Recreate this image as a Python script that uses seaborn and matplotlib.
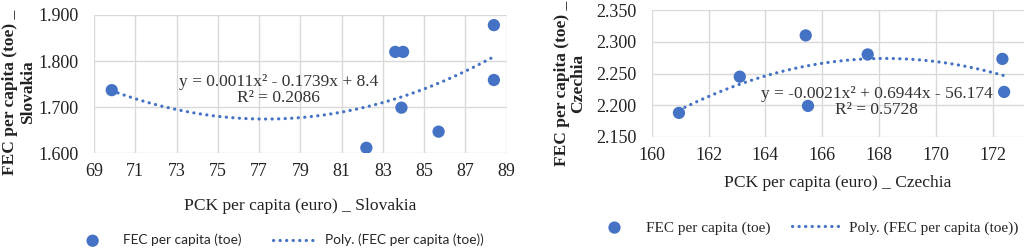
import numpy as np
import pandas as pd
import matplotlib
matplotlib.use('Agg')
import matplotlib.pyplot as plt
import seaborn as sns

# Slovakia
sk_pck = [69.86, 83.6, 83.98, 83.9, 82.2, 85.7, 88.38, 88.38]
sk_fec = [1.737, 1.820, 1.820, 1.699, 1.612, 1.647, 1.878, 1.759]
sk_eq = 'y = 0.0011x² - 0.1739x + 8.4\nR² = 0.2086'

# Czechia
cz_pck = [160.96, 163.1, 165.42, 165.5, 167.6, 172.34, 172.4]
cz_fec = [2.188, 2.245, 2.310, 2.199, 2.280, 2.273, 2.221]
cz_eq = 'y = -0.0021x² + 0.6944x - 56.174\nR² = 0.5728'

sk = pd.DataFrame({'pck': sk_pck, 'fec': sk_fec})
cz = pd.DataFrame({'pck': cz_pck, 'fec': cz_fec})

sns.set_style('white')
plt.rcParams['font.family'] = ['Liberation Serif', 'DejaVu Serif']

blue = '#4472C4'
grid = '#d9d9d9'
txt = '#222222'
dots = dict(color=blue, linestyle=(0, (0.05, 2.0)), linewidth=2.3, dash_capstyle='round')

fig = plt.figure(figsize=(10.24, 2.49), dpi=100)
ax1 = fig.add_axes([0.0918, 0.3843, 0.403, 0.5555])
ax2 = fig.add_axes([0.6364, 0.4498, 0.3636, 0.51])


def panel(ax, df, xlim, xticks, ylim, yticks):
    sns.scatterplot(x='pck', y='fec', data=df, ax=ax, color=blue, s=78,
                    edgecolor='none', label='FEC per capita (toe)', zorder=3)
    sns.regplot(x='pck', y='fec', data=df, ax=ax, order=2, scatter=False, ci=None,
                line_kws=dots, label='Poly. (FEC per capita (toe))')
    ax.set_xlim(*xlim)
    ax.set_ylim(*ylim)
    ax.set_xticks(xticks)
    ax.set_yticks(yticks)
    ax.set_yticklabels(['{:.3f}'.format(v) for v in yticks])
    ax.grid(True, color=grid, linewidth=1)
    ax.set_axisbelow(True)
    for s in ax.spines.values():
        s.set_visible(False)
    ax.tick_params(length=0, labelsize=13, colors=txt)
    ax.tick_params(axis='y', pad=11)
    ax.tick_params(axis='x', pad=7)


panel(ax1, sk, (69, 89), np.arange(69, 90, 2), (1.6, 1.9), [1.6, 1.7, 1.8, 1.9])
panel(ax2, cz, (160, 173.1), np.arange(160, 173, 2), (2.15, 2.35),
      [2.15, 2.20, 2.25, 2.30, 2.35])

ax1.set_xlabel('PCK per capita (euro) _ Slovakia', fontsize=12.6, labelpad=13, color=txt)
ax1.set_ylabel('FEC per capita (toe) _\nSlovakia', fontsize=12.5, fontweight='bold',
               color=txt, linespacing=1.15)
ax1.yaxis.set_label_coords(-0.14, 0.44)
ax2.set_xlabel('PCK per capita (euro) _ Czechia', fontsize=12.6, labelpad=8, color=txt)
ax2.set_ylabel('FEC per capita (toe) _\nCzechia', fontsize=12.5, fontweight='bold',
               color=txt, linespacing=1.05)
ax2.yaxis.set_label_coords(-0.176, 0.42)

ax1.text(77.93, 1.738, sk_eq, ha='center', va='center', fontsize=12.5,
         color='#333333', linespacing=1.0)
ax2.text(167.92, 2.2056, cz_eq, ha='center', va='center', fontsize=12.5,
         color='#333333', linespacing=1.0)

ax1.legend(loc='center', bbox_to_anchor=(0.271, 0.036), bbox_transform=fig.transFigure,
           ncol=2, frameon=False, prop={'family': 'Lato', 'size': 9.8},
           columnspacing=2.3, handlelength=3.1, handletextpad=0.7, borderpad=0)
ax2.legend(loc='center', bbox_to_anchor=(0.785, 0.085), bbox_transform=fig.transFigure,
           ncol=2, frameon=False, prop={'family': 'Liberation Serif', 'size': 11},
           columnspacing=1.45, handlelength=3.3, handletextpad=0.4, borderpad=0)

fig.savefig('out.png', dpi=100)
